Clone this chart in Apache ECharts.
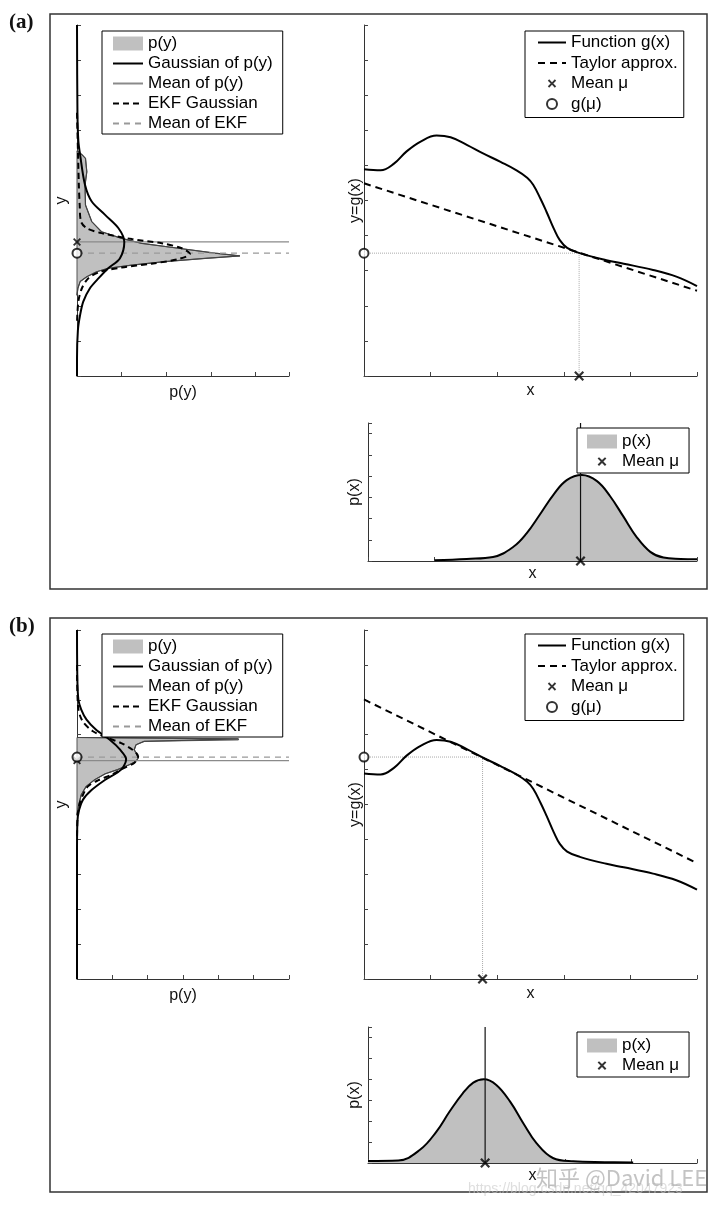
<!DOCTYPE html>
<html>
<head>
<meta charset="utf-8">
<script src="https://cdn.jsdelivr.net/npm/echarts@6/dist/echarts.min.js"></script>
<style>
html,body{margin:0;padding:0;background:#fff;}
#chart{width:720px;height:1209px;}
</style>
</head>
<body>
<div id="chart"></div>
<script>
// ---------------- data ----------------
// nonlinear function g(x), same in both panels
const gX = [0, 0.25, 0.45, 0.64, 0.85, 1.09, 1.3, 1.55, 1.78, 2.05, 2.29, 2.45, 2.54, 2.65, 2.74, 2.85, 2.94, 3.05, 3.24, 3.64, 3.9, 4.34, 4.69, 5.0];
const gY = [5.89, 5.86, 6.05, 6.40, 6.68, 6.85, 6.80, 6.58, 6.35, 6.10, 5.86, 5.65, 5.45, 5.05, 4.68, 4.20, 3.87, 3.65, 3.50, 3.30, 3.20, 3.02, 2.83, 2.56];
// Taylor lines (endpoints at x = 0 and x = 5)
const taylorX = [0, 5];
const taylorA = [5.49, 2.43];
const taylorB = [8.01, 3.32];
// means
const muA = 3.23, gMuA = 3.5, meanPyA = 3.82;
const muB = 1.78, gMuB = 6.36, meanPyB = 6.26;

// left plots: [p(y) value, y]
const pyA = [[0,6.42],[0.10,6.32],[0.19,6.2],[0.22,5.82],[0.18,5.44],[0.19,4.87],[0.33,4.40],[0.55,4.11],[1.0,3.92],[1.45,3.78],[2.27,3.64],[3.09,3.50],[3.65,3.42],[2.87,3.35],[1.97,3.26],[1.23,3.16],[0.70,3.07],[0.44,2.97],[0.22,2.83],[0.07,2.69],[0.02,2.5],[0,2.3]];
const gaussA = [[0,10],[0.01,7.5],[0.03,6.7],[0.07,6.30],[0.18,5.44],[0.33,4.97],[0.63,4.59],[0.93,4.21],[1.06,3.82],[0.96,3.35],[0.70,3.07],[0.48,2.78],[0.29,2.50],[0.14,2.12],[0.07,1.74],[0.02,1.3],[0,0.5],[0,0]];
const ekfA = [[0,7.5],[0.04,5.5],[0.06,4.87],[0.09,4.40],[0.22,4.21],[0.55,4.07],[1.23,3.90],[1.90,3.78],[2.35,3.64],[2.53,3.48],[2.27,3.33],[1.67,3.20],[1.0,3.09],[0.52,2.97],[0.25,2.78],[0.11,2.50],[0.03,2.12],[0,1.5]];

const pyB = [[0,6.92],[4.57,6.88],[4.57,6.85],[1.9,6.81],[1.67,6.71],[1.62,6.57],[1.67,6.48],[1.73,6.33],[1.67,6.24],[1.48,6.14],[1.15,6.0],[0.8,5.88],[0.5,5.71],[0.26,5.52],[0.12,5.28],[0.04,4.95],[0,4.7]];
const gaussB = [[0,10],[0.01,8.6],[0.04,8.0],[0.12,7.72],[0.27,7.43],[0.54,7.14],[0.92,6.86],[1.22,6.57],[1.39,6.3],[1.25,6.0],[0.8,5.71],[0.42,5.42],[0.17,5.14],[0.06,4.85],[0.01,4.5],[0,3.5],[0,0]];
const ekfB = [[0,9.0],[0.03,7.8],[0.15,7.4],[0.45,7.1],[0.87,6.91],[1.25,6.76],[1.57,6.57],[1.73,6.38],[1.62,6.19],[1.34,6.05],[0.97,5.85],[0.59,5.69],[0.31,5.52],[0.17,5.28],[0.08,5.04],[0.02,4.7],[0,4.0]];

// bottom plots: [x, p(x)]
const pxA = [[1.01,0.03],[1.5,0.1],[1.90,0.19],[2.21,0.67],[2.41,1.3],[2.61,2.18],[2.82,3.13],[3.02,3.81],[3.25,4.05],[3.48,3.76],[3.68,3.05],[3.88,2.1],[4.08,1.14],[4.29,0.43],[4.49,0.16],[4.75,0.1],[5.0,0.08]];
const pxB = [[0,0.1],[0.46,0.12],[0.79,0.63],[1.04,1.5],[1.24,2.46],[1.44,3.33],[1.6,3.84],[1.76,4.0],[1.95,3.73],[2.16,2.93],[2.36,1.9],[2.56,0.95],[2.81,0.24],[3.12,0.08],[3.6,0.04],[4.03,0.02]];

// axis ranges (tick units)
const leftXMaxA = 4.75, leftXMaxB = 6, gxMax = 5, gyMax = 10, pxMax = 6.5;

// legend texts
const legendLeft = ['p(y)', 'Gaussian of p(y)', 'Mean of p(y)', 'EKF Gaussian', 'Mean of EKF'];
const legendRight = ['Function g(x)', 'Taylor approx.', 'Mean \u03bc', 'g(\u03bc)'];
const legendBottom = ['p(x)', 'Mean \u03bc'];

// ---------------- chart ----------------
const FONT = "'Liberation Sans', Arial, Helvetica, sans-serif";
const GRAY = '#c0c0c0';
const XPATH = 'path://M0,1.6L1.6,0L5,3.4L8.4,0L10,1.6L6.6,5L10,8.4L8.4,10L5,6.6L1.6,10L0,8.4L3.4,5Z';
const XPATH_LEG = 'path://M-3,-3M13,13M0,1.6L1.6,0L5,3.4L8.4,0L10,1.6L6.6,5L10,8.4L8.4,10L5,6.6L1.6,10L0,8.4L3.4,5Z';
const XPATH_LEG_R = 'path://M-1,-1M11,11M0,1.6L1.6,0L5,3.4L8.4,0L10,1.6L6.6,5L10,8.4L8.4,10L5,6.6L1.6,10L0,8.4L3.4,5Z';
const zip = (a, b) => a.map((v, i) => [v, b[i]]);

const nameStyle = {fontSize: 16, color: '#111', fontFamily: FONT};
function xAx(grid, max, name, gap) {
  return {gridIndex: grid, type: 'value', min: 0, max: max, interval: 1,
    axisLine: {onZero: false, lineStyle: {color: '#333', width: 1}},
    axisTick: {inside: true, length: 4, lineStyle: {color: '#444'}},
    axisLabel: {show: false}, splitLine: {show: false},
    name: name, nameLocation: 'middle', nameGap: gap, nameTextStyle: nameStyle};
}
function yAx(grid, max, name, gap) {
  return {gridIndex: grid, type: 'value', min: 0, max: max, interval: 1,
    axisLine: {onZero: false, lineStyle: {color: '#333', width: 1}},
    axisTick: {inside: true, length: 4, lineStyle: {color: '#444'}},
    axisLabel: {show: false}, splitLine: {show: false},
    name: name, nameLocation: 'middle', nameGap: gap, nameTextStyle: nameStyle};
}
function line(grid, name, data, color, width, type, smooth, z) {
  return {type: 'line', name: name, xAxisIndex: grid, yAxisIndex: grid, data: data,
    symbol: 'none', smooth: smooth, z: z || 3, silent: true,
    lineStyle: {color: color, width: width, type: type}, itemStyle: {color: color}};
}
function fillPoly(grid, name, pts) {
  return {type: 'custom', name: name, coordinateSystem: 'cartesian2d', xAxisIndex: grid, yAxisIndex: grid,
    data: [pts[0]], z: 1, silent: true, itemStyle: {color: GRAY},
    renderItem: function (params, api) {
      return {type: 'polygon', shape: {points: pts.map(p => api.coord(p))},
        style: {fill: GRAY, stroke: '#555', lineWidth: 1}};
    }};
}
function xMark(grid, name, pt, size) {
  return {type: 'scatter', name: name, xAxisIndex: grid, yAxisIndex: grid, data: [pt],
    symbol: XPATH, symbolSize: size || 9, itemStyle: {color: '#000'}, clip: false, z: 6, silent: true};
}
function oMark(grid, name, pt) {
  return {type: 'scatter', name: name, xAxisIndex: grid, yAxisIndex: grid, data: [pt],
    symbol: 'circle', symbolSize: 9, itemStyle: {color: '#fff', borderColor: '#000', borderWidth: 2},
    clip: false, z: 6, silent: true};
}

function leftSeries(grid, py, gauss, ekf, meanPy, meanEkf, xmax) {
  return [
    fillPoly(grid, 'p(y)', py),
    line(grid, 'p(y) outline', py, '#444', 1.2, 'solid', false, 2),
    line(grid, 'Gaussian of p(y)', gauss, '#000', 2, 'solid', 0.3, 4),
    line(grid, 'Mean of p(y)', [[0, meanPy], [xmax, meanPy]], '#8a8a8a', 1.2, 'solid', false, 3),
    line(grid, 'EKF Gaussian', ekf, '#000', 2, [6, 4], 0.3, 4),
    line(grid, 'Mean of EKF', [[0, meanEkf], [xmax, meanEkf]], '#999', 1.2, [6, 5], false, 3),
    xMark(grid, 'mark x', [0, meanPy], 8),
    oMark(grid, 'mark o', [0, meanEkf])
  ];
}
function rightSeries(grid, taylor, mu, gMu) {
  return [
    line(grid, 'Function g(x)', zip(gX, gY), '#000', 2, 'solid', 0.4, 4),
    line(grid, 'Taylor approx.', zip(taylorX, taylor), '#000', 2, [7, 5], false, 4),
    line(grid, 'guide h', [[0, gMu], [mu, gMu]], '#aaa', 1, 'dotted', false, 2),
    line(grid, 'guide v', [[mu, gMu], [mu, 0]], '#aaa', 1, 'dotted', false, 2),
    xMark(grid, 'Mean \u03bc', [mu, 0], 10),
    oMark(grid, 'g(\u03bc)', [0, gMu])
  ];
}
function bottomSeries(grid, px, mu) {
  const s = line(grid, 'p(x)', px, '#000', 2, 'solid', 0.4, 3);
  s.areaStyle = {color: GRAY, opacity: 1};
  return [
    s,
    line(grid, 'mean line', [[mu, 0], [mu, pxMax]], '#111', 1.2, 'solid', false, 4),
    xMark(grid, 'Mean \u03bc', [mu, 0], 10)
  ];
}

const lineItem = {itemStyle: {opacity: 0, borderWidth: 0}};
function legendBox(left, top, names, itemWidth, itemHeight, pad, gap, special) {
  return {left: left, top: top, orient: 'vertical', itemWidth: itemWidth, itemHeight: itemHeight,
    itemGap: gap, padding: pad, borderColor: '#000', borderWidth: 1, backgroundColor: '#fff',
    selectedMode: false, symbolKeepAspect: true, z: 10,
    textStyle: {fontSize: 17, fontFamily: FONT, color: '#000'},
    data: names.map(n => Object.assign({name: n}, special[n] || lineItem))};
}
const legSpecialL = {
  'p(y)': {icon: 'rect', itemStyle: {color: GRAY, borderWidth: 0}}
};
const legSpecialR = {
  'Mean \u03bc': {icon: XPATH_LEG_R, itemStyle: {color: '#000', borderWidth: 0}},
  'g(\u03bc)': {icon: 'circle', itemStyle: {color: '#fff', borderColor: '#000', borderWidth: 2}}
};
const legSpecialB = {
  'p(x)': {icon: 'rect', itemStyle: {color: GRAY, borderWidth: 0}},
  'Mean \u03bc': {icon: XPATH_LEG, itemStyle: {color: '#000', borderWidth: 0}}
};

const option = {
  animation: false,
  backgroundColor: '#fff',
  textStyle: {fontFamily: FONT},
  grid: [
    {left: 77, top: 25, width: 212, height: 351},
    {left: 364, top: 25, width: 333, height: 351},
    {left: 368, top: 423, width: 329, height: 138},
    {left: 77, top: 630, width: 212, height: 349},
    {left: 364, top: 630, width: 333, height: 349},
    {left: 368, top: 1027, width: 329, height: 136}
  ],
  xAxis: [
    xAx(0, leftXMaxA, 'p(y)', 9), xAx(1, gxMax, 'x', 7), xAx(2, gxMax, 'x', 5),
    xAx(3, leftXMaxB, 'p(y)', 9), xAx(4, gxMax, 'x', 7), xAx(5, gxMax, 'x', 5)
  ],
  yAxis: [
    yAx(0, gyMax, 'y', 7), yAx(1, gyMax, 'y=g(x)', 0), yAx(2, pxMax, 'p(x)', 5),
    yAx(3, gyMax, 'y', 7), yAx(4, gyMax, 'y=g(x)', 0), yAx(5, pxMax, 'p(x)', 5)
  ],
  legend: [
    legendBox(102, 31, legendLeft, 30, 14, [4, 10, 2, 10], 3, legSpecialL),
    legendBox(525, 31, legendRight, 28, 10, [3, 6, 5, 12], 3.5, legSpecialR),
    legendBox(577, 428, legendBottom, 30, 14, [5, 10, 3, 10], 3, legSpecialB),
    legendBox(102, 634, legendLeft, 30, 14, [4, 10, 2, 10], 3, legSpecialL),
    legendBox(525, 634, legendRight, 28, 10, [3, 6, 5, 12], 3.5, legSpecialR),
    legendBox(577, 1032, legendBottom, 30, 14, [5, 10, 3, 10], 3, legSpecialB)
  ],
  series: [].concat(
    leftSeries(0, pyA, gaussA, ekfA, meanPyA, gMuA, leftXMaxA),
    rightSeries(1, taylorA, muA, gMuA),
    bottomSeries(2, pxA, muA),
    leftSeries(3, pyB, gaussB, ekfB, meanPyB, gMuB, leftXMaxB),
    rightSeries(4, taylorB, muB, gMuB),
    bottomSeries(5, pxB, muB)
  ),
  graphic: [
    {type: 'rect', shape: {x: 50, y: 14, width: 657, height: 575}, style: {fill: 'none', stroke: '#333', lineWidth: 1.5}, z: 0, silent: true},
    {type: 'rect', shape: {x: 50, y: 618, width: 657, height: 574}, style: {fill: 'none', stroke: '#333', lineWidth: 1.5}, z: 0, silent: true},
    {type: 'text', left: 9, top: 12, style: {text: '(a)', font: "bold 21px 'Liberation Serif', 'DejaVu Serif', serif", fill: '#111'}},
    {type: 'text', left: 9, top: 616, style: {text: '(b)', font: "bold 21px 'Liberation Serif', 'DejaVu Serif', serif", fill: '#111'}},
    {type: 'text', left: 536, top: 1167, z: 20, style: {text: '\u77e5\u4e4e @David LEE', font: "22px 'Noto Sans CJK SC', 'Liberation Sans', sans-serif", fill: 'rgba(175,175,175,0.75)'}},
    {type: 'text', left: 468, top: 1182, z: 19, style: {text: 'https://blog.csdn.net/qq_42047923', font: "14px 'Liberation Sans', sans-serif", fill: 'rgba(200,200,200,0.6)'}}
  ]
};

const chart = echarts.init(document.getElementById('chart'), null, {renderer: 'canvas'});
chart.setOption(option);
</script>
</body>
</html>
